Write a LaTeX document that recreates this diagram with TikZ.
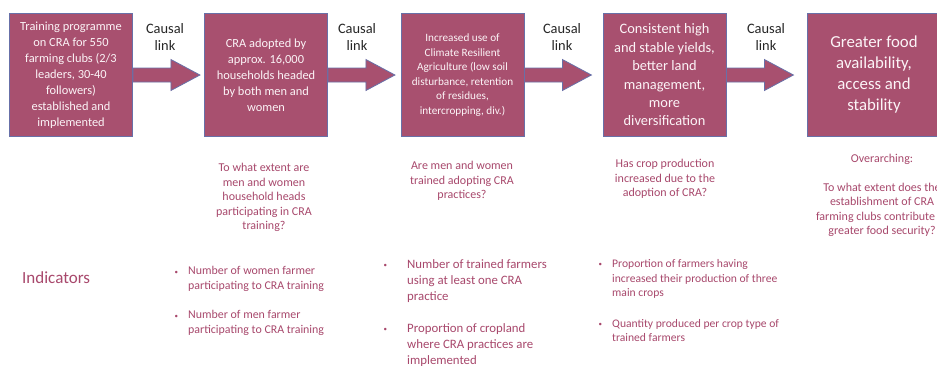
\documentclass[tikz,border=0pt]{standalone}
\usepackage{fontspec}
\setmainfont{Carlito}
\usetikzlibrary{calc}
\definecolor{boxfill}{RGB}{168,80,111}
\definecolor{boxline}{RGB}{104,112,168}
\definecolor{boxtext}{RGB}{252,244,247}
\definecolor{qtext}{RGB}{168,72,108}
% bullet hung in the left margin of an indicator line
\newcommand{\ibullet}[1]{\llap{\raisebox{0.15ex}{\fontsize{7}{7}\selectfont\textbullet}\hspace{#1}}}
% block arrow leaving the east side of a stage box
\newcommand{\stagearrow}[1]{%
  \draw[blockarrow] ($(#1.east)+(0,-7)$) -- ++(38,0) -- ++(0,-8.5) -- ++(29,15.5)
    -- ++(-29,15.5) -- ++(0,-8.5) -- ($(#1.east)+(0,7)$) -- cycle;}
\begin{document}
\begin{tikzpicture}[x=1pt,y=-1pt,
  stage/.style={draw=boxline, line width=0.8pt, fill=boxfill, minimum width=123pt,
    minimum height=123pt, inner sep=0pt, text=boxtext, align=center},
  linklabel/.style={align=center, font=\fontsize{14.4}{17}\selectfont, text=black!85, inner sep=0pt},
  question/.style={text=qtext, align=center, font=\fontsize{12}{14.6}\selectfont, inner sep=0pt},
  indicator/.style={text=qtext, align=left, anchor=west, inner sep=0pt},
  blockarrow/.style={draw=boxline, line width=0.8pt, fill=boxfill, line join=miter}
]
\useasboundingbox (0,0) rectangle (937,365);
\fill[white] (0,0) rectangle (937,365);

% stages of the results chain
\node[stage, font=\fontsize{12.4}{16}\selectfont] (b1) at (71,75)
  {Training programme\\on CRA for 550\\farming clubs (2/3\\leaders, 30-40\\followers)\\established and\\implemented};
\node[stage, font=\fontsize{12.4}{16}\selectfont] (b2) at (266,75)
  {CRA adopted by\\approx. 16,000\\households headed\\by both men and\\women};
\node[stage, font=\fontsize{11.2}{14.6}\selectfont] (b3) at (462.5,75)
  {Increased use of\\Climate Resilient\\Agriculture (low soil\\disturbance, retention\\of residues,\\intercropping, div.)};
\node[stage, font=\fontsize{14.4}{18.4}\selectfont] (b4) at (664.5,75)
  {Consistent high\\and stable yields,\\better land\\management,\\more\\diversification};
\node[stage, minimum width=134pt, font=\fontsize{16.8}{21}\selectfont] (b5) at (874,75)
  {Greater food\\availability,\\access and\\stability};

% causal links
\stagearrow{b1}
\stagearrow{b2}
\stagearrow{b3}
\stagearrow{b4}
\node[linklabel] (l1) at (165,36.5) {Causal\\link};
\node[linklabel] (l2) at (357,36.5) {Causal\\link};
\node[linklabel] (l3) at (562,36.5) {Causal\\link};
\node[linklabel] (l4) at (766,36.5) {Causal\\link};

% evaluation questions
\node[question] (q1) at (264,197.5)
  {To what extent are\\men and women\\household heads\\participating in CRA\\training?};
\node[question] (q2) at (462,181)
  {Are men and women\\trained adopting CRA\\practices?};
\node[question] (q3) at (665,179)
  {Has crop production\\increased due to the\\adoption of CRA?};
\node[question, font=\fontsize{12}{14.5}\selectfont] (q4) at (882,195.5)
  {Overarching:\\[14.5pt]To what extent does the\\establishment of CRA\\farming clubs contribute to\\greater food security?};

% indicators
\node[indicator, font=\fontsize{17}{20}\selectfont] (ind) at (22,278) {Indicators};
\node[indicator, font=\fontsize{11.9}{14.5}\selectfont] (i1a) at (188,279)
  {\ibullet{10pt}Number of women farmer\\participating to CRA training};
\node[indicator, font=\fontsize{11.9}{14.5}\selectfont] (i1b) at (188,323)
  {\ibullet{10pt}Number of men farmer\\participating to CRA training};
\node[indicator, font=\fontsize{12.8}{16}\selectfont] (i2a) at (407,281)
  {\ibullet{20pt}Number of trained farmers\\using at least one CRA\\practice};
\node[indicator, font=\fontsize{12.8}{16}\selectfont] (i2b) at (407,345)
  {\ibullet{20pt}Proportion of cropland\\where CRA practices are\\implemented};
\node[indicator, font=\fontsize{11.6}{14.3}\selectfont] (i3a) at (612,279)
  {\ibullet{10pt}Proportion of farmers having\\increased their production of three\\main crops};
\node[indicator, font=\fontsize{11.6}{14.3}\selectfont] (i3b) at (612,330.5)
  {\ibullet{10pt}Quantity produced per crop type of\\trained farmers};
\end{tikzpicture}
\end{document}
